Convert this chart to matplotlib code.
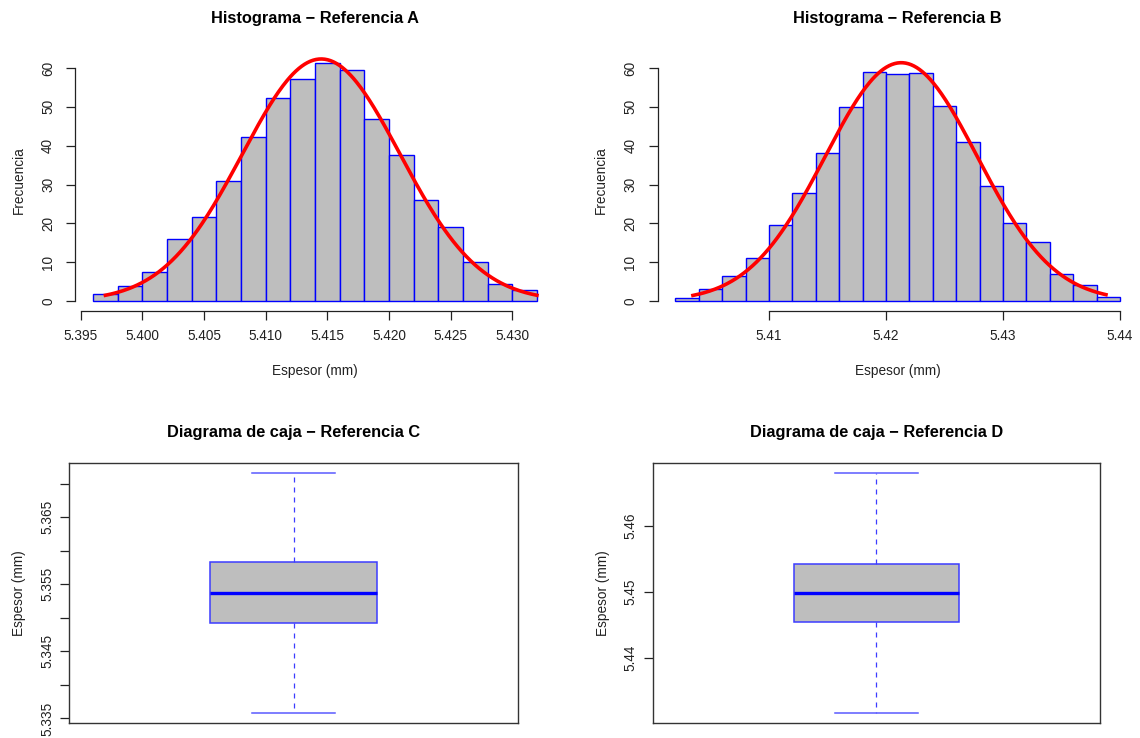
import numpy as np
import matplotlib
matplotlib.use('Agg')
import matplotlib.pyplot as plt

plt.rcParams['font.family'] = ['Liberation Sans', 'DejaVu Sans']

#! Datos
# Histograma A (bins de 0.002 desde 5.396)
bins_a = np.round(5.396 + 0.002 * np.arange(19), 3)
freq_a = [1.8, 3.9, 7.4, 15.9, 21.6, 30.9, 42.3, 52.3, 57.2, 61.3,
          59.6, 47.0, 37.5, 26.0, 19.0, 10.0, 4.4, 2.8]
xticks_a = [5.395, 5.400, 5.405, 5.410, 5.415, 5.420, 5.425, 5.430]
xlabels_a = ['5.395', '5.400', '5.405', '5.410', '5.415', '5.420', '5.425', '5.430']
mean_a, sd_a, n_a = 5.4145, 0.0064, 500
curve_a = (5.397, 5.432)

# Histograma B (bins de 0.002 desde 5.402)
bins_b = np.round(5.402 + 0.002 * np.arange(20), 3)
freq_b = [0.8, 3.0, 6.4, 11.0, 19.6, 27.7, 38.2, 49.9, 58.9, 58.4,
          58.6, 50.3, 40.9, 29.7, 20.0, 15.1, 7.0, 4.1, 1.0]
xticks_b = [5.41, 5.42, 5.43, 5.44]
xlabels_b = ['5.41', '5.42', '5.43', '5.44']
mean_b, sd_b, n_b = 5.4213, 0.0065, 500
curve_b = (5.4035, 5.4388)

yticks_hist = [0, 10, 20, 30, 40, 50, 60]

# Diagramas de caja: (min, Q1, mediana, Q3, max)
box_c = [5.3358, 5.3493, 5.3537, 5.3583, 5.3716]
yticks_c = [5.335, 5.340, 5.345, 5.350, 5.355, 5.360, 5.365, 5.370]
ylabels_c = ['5.335', '', '5.345', '', '5.355', '', '5.365', '']

box_d = [5.4316, 5.4454, 5.4499, 5.4543, 5.4681]
yticks_d = [5.44, 5.45, 5.46]
ylabels_d = ['5.44', '5.45', '5.46']

#! Figura
W, H = 1140, 738
fig = plt.figure(figsize=(11.4, 7.38), dpi=100)

def px_axes(x0, x1, y0, y1):
    # y0 = arriba, y1 = abajo (pixeles desde arriba)
    return fig.add_axes([x0 / W, (H - y1) / H, (x1 - x0) / W, (y1 - y0) / H])

def histograma(ax, bins, freq, xticks, xlabels, mean, sd, n, crange, titulo):
    bw = bins[1] - bins[0]
    ax.bar(bins[:-1], freq, width=bw, align='edge', color='#bebebe',
           edgecolor='blue', linewidth=1.0)
    xs = np.linspace(crange[0], crange[1], 300)
    ys = n * bw * np.exp(-0.5 * ((xs - mean) / sd) ** 2) / (sd * np.sqrt(2 * np.pi))
    ax.plot(xs, ys, color='red', linewidth=2.6)
    pad = 0.04 * (bins[-1] - bins[0])
    ax.set_xlim(bins[0] - pad, bins[-1] + pad)
    ax.set_ylim(-2.49, 64.8)
    for s in ['top', 'right']:
        ax.spines[s].set_visible(False)
    ax.spines['left'].set_bounds(0, 60)
    ax.spines['bottom'].set_bounds(xticks[0], xticks[-1])
    for s in ['left', 'bottom']:
        ax.spines[s].set_color('#222222')
        ax.spines[s].set_linewidth(0.9)
    ax.set_xticks(xticks)
    ax.set_xticklabels(xlabels)
    ax.set_yticks(yticks_hist)
    ax.set_yticklabels([str(v) for v in yticks_hist], rotation=90, va='center')
    ax.tick_params(axis='x', length=6.5, width=0.9, color='#222222', pad=7, labelsize=9.8, labelcolor='#222222')
    ax.tick_params(axis='y', length=6.5, width=0.9, color='#222222', pad=8, labelsize=9.8, labelcolor='#222222')
    ax.set_title(titulo, fontsize=11.8, fontweight='bold', pad=19)
    ax.set_xlabel('Espesor (mm)', fontsize=9.8, labelpad=15, color='#222222')
    ax.set_ylabel('Frecuencia', fontsize=9.8, labelpad=11, color='#222222')

def caja(ax, vals, yticks, ylabels, titulo):
    stats = [dict(whislo=vals[0], q1=vals[1], med=vals[2], q3=vals[3], whishi=vals[4], fliers=[])]
    ax.bxp(stats, positions=[1], widths=0.4, patch_artist=True, showfliers=False,
           boxprops=dict(facecolor='#bebebe', edgecolor='#3c3cff', linewidth=1.1),
           medianprops=dict(color='blue', linewidth=2.4, solid_capstyle='butt'),
           whiskerprops=dict(color='#3c3cff', linewidth=0.9, linestyle=(0, (4, 4))),
           capprops=dict(color='#5a5aff', linewidth=1.1))
    pad = 0.04 * (vals[4] - vals[0])
    ax.set_ylim(vals[0] - pad, vals[4] + pad)
    ax.set_xlim(0.46, 1.54)
    ax.set_xticks([])
    ax.set_yticks(yticks)
    ax.set_yticklabels(ylabels, rotation=90, va='center')
    ax.tick_params(axis='y', length=6.5, width=0.9, color='#222222', pad=4.5, labelsize=9.8, labelcolor='#222222')
    for s in ax.spines.values():
        s.set_color('#333333')
        s.set_linewidth(1.0)
    ax.set_title(titulo, fontsize=11.8, fontweight='bold', pad=19)
    ax.set_ylabel('Espesor (mm)', fontsize=9.8, labelpad=10, color='#222222')

ax_a = px_axes(75.3, 554.7, 49.4, 310.7)
histograma(ax_a, bins_a, freq_a, xticks_a, xlabels_a, mean_a, sd_a, n_a, curve_a,
           'Histograma \u2212 Referencia A')

ax_b = px_axes(657.6, 1137.8, 49.4, 310.7)
histograma(ax_b, bins_b, freq_b, xticks_b, xlabels_b, mean_b, sd_b, n_b, curve_b,
           'Histograma \u2212 Referencia B')

ax_c = px_axes(69.3, 517.7, 463.3, 722.7)
caja(ax_c, box_c, yticks_c, ylabels_c, 'Diagrama de caja \u2212 Referencia C')

ax_d = px_axes(652.7, 1100.0, 463.3, 722.7)
caja(ax_d, box_d, yticks_d, ylabels_d, 'Diagrama de caja \u2212 Referencia D')

fig.savefig('out.png', dpi=100, facecolor='white')
